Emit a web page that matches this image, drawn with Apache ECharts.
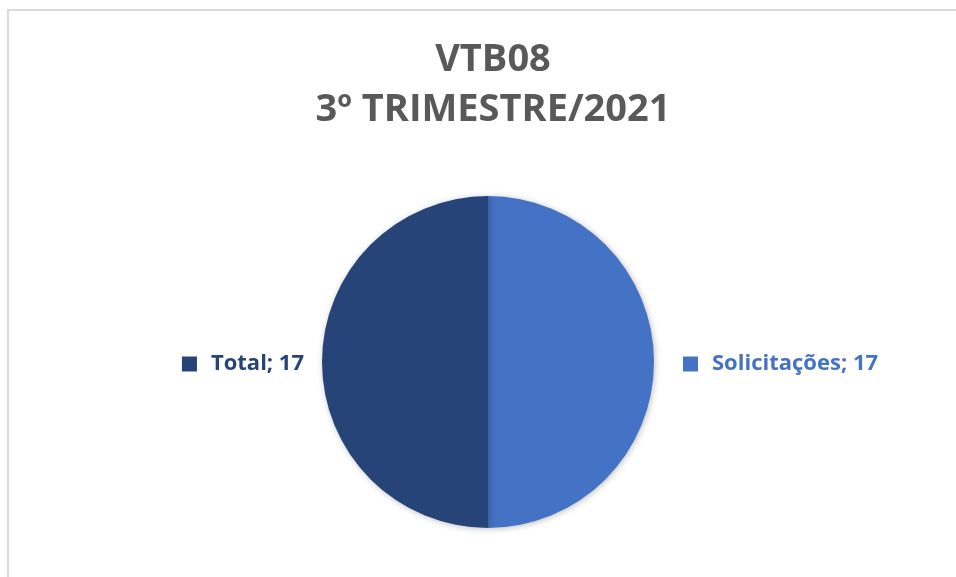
<!DOCTYPE html>
<html>
<head>
<meta charset="utf-8">
<script src="https://cdn.jsdelivr.net/npm/echarts@6/dist/echarts.min.js"></script>
<style>
  html, body { margin: 0; padding: 0; background: #fff; }
  #wrap { position: relative; width: 956px; height: 577px; overflow: hidden; }
  #frame { position: absolute; left: 7px; top: 9px; width: 1000px; height: 600px;
           border-top: 2px solid #d9d9d9; border-left: 2px solid #d9d9d9; }
  #chart { position: absolute; left: 0; top: 0; width: 956px; height: 577px; }
</style>
</head>
<body>
<div id="wrap">
  <div id="frame"></div>
  <div id="chart"></div>
</div>
<script>
// dados do gráfico
const titleLines = ["VTB08", "3º TRIMESTRE/2021"];
const categories = ["Solicitações", "Total"];
const values = [17, 17];
const colors = ["#4472C4", "#264478"];
const lineLen = [18, 7]; // distância do rótulo à pizza

const chart = echarts.init(document.getElementById("chart"));

const option = {
  title: {
    text: titleLines.join("\n"),
    left: 488,
    textAlign: "center",
    top: 30,
    textStyle: {
      fontFamily: "Open Sans",
      fontSize: 38,
      fontWeight: "bold",
      color: "#595959",
      lineHeight: 50
    }
  },
  series: [
    {
      type: "pie",
      center: [488, 362],
      radius: 166,
      startAngle: 90,
      clockwise: true,
      animation: false,
      itemStyle: {
        shadowBlur: 6,
        shadowColor: "rgba(0,0,0,0.25)",
        shadowOffsetX: 1,
        shadowOffsetY: 1
      },
      label: {
        show: true,
        position: "outside",
        formatter: "{sq|}{gap|}{t|{b}; {c}}"
      },
      labelLine: { show: false, length: 18, length2: 6 },
      emphasis: { disabled: true },
      data: categories.map((name, i) => ({
        name: name,
        value: values[i],
        itemStyle: { color: colors[i] },
        labelLine: { show: false, length: lineLen[i], length2: 6 },
        label: {
          padding: [4, 0, 0, 0],
          rich: {
            sq: { width: 15, height: 15, backgroundColor: colors[i] },
            gap: { width: 14 },
            t: { fontFamily: "Open Sans", fontSize: 22, fontWeight: "bold", color: colors[i] }
          }
        }
      }))
    }
  ]
};

chart.setOption(option);
</script>
</body>
</html>
